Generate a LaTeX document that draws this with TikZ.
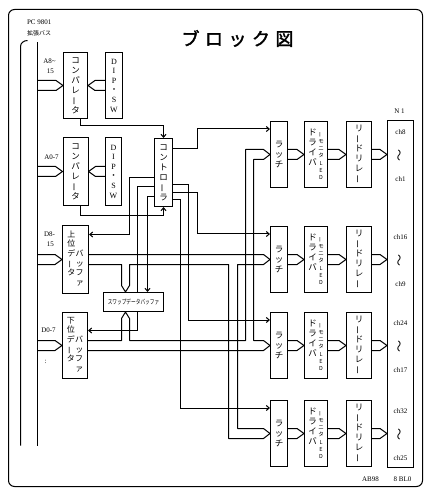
\documentclass[tikz,border=0pt]{standalone}
\usepackage{fontspec}
\usepackage{graphicx}
\setmainfont{Liberation Serif}
\newfontfamily\cjk{Noto Sans CJK JP}
\newfontfamily\cjkb{Noto Sans CJK JP}[FakeBold=2]
\usetikzlibrary{arrows.meta,calc}
\newcommand\vb{\rotatebox[origin=c]{90}{ー}}
\newcommand\wideR[2]{\draw[bus] let \p1=(#1), \p2=(#2) in (\x1,\y2+5pt) -- (\x2-7pt,\y2+5pt) -- (\p2) -- (\x2-7pt,\y2-5pt) -- (\x1,\y2-5pt);}
\newcommand\wideL[2]{\draw[bus] let \p1=(#1), \p2=(#2) in (\x1,\y2+5pt) -- (\x2+7pt,\y2+5pt) -- (\p2) -- (\x2+7pt,\y2-5pt) -- (\x1,\y2-5pt);}
\begin{document}
\begin{tikzpicture}[x=1pt,y=-1pt,line width=1pt,
  box/.style={draw,fill=white,inner sep=0pt,align=center,font=\cjk\fontsize{8.5}{10}\selectfont},
  sig/.style={draw=black,-{Straight Barb[length=3pt,width=5pt]}},
  bus/.style={draw=black,line join=round},
  lbl/.style={inner sep=0pt,font=\fontsize{7}{10}\selectfont,align=center}]
\useasboundingbox (-0.5,-0.5) rectangle (431.5,501.5);
\draw[rounded corners=6pt] (8,9) rectangle (422,486);
% title and labels
\node[inner sep=0pt,font=\cjkb\fontsize{18}{18}\selectfont] (title) at (237,38)
  {\makebox[23.5pt]{ブ}\makebox[23.5pt]{ロ}\makebox[23.5pt]{ッ}\makebox[23.5pt]{ク}\makebox[23.5pt]{図}};
\node[lbl,anchor=west] (pc) at (26,22) {PC 9801};
\node[lbl,anchor=west,font=\cjk\fontsize{6}{7}\selectfont] (kaku) at (26,33) {拡張バス};
\node[lbl] (la8) at (49,66) {A8\textasciitilde\\\ 15};
\node[lbl] (la0) at (51,157) {A0-7};
\node[lbl] (ld8) at (49,239) {D8-\\\ 15};
\node[lbl] (ld0) at (48,330) {D0-7};
\node[lbl] (colon) at (45,361) {:};
% boxes
\node[box,minimum width=24pt,minimum height=66pt] (comp1) at (75,85) {コ\\ン\\パ\\レ\\\vb\\タ};
\node[box,font=\fontsize{8}{9.6}\selectfont,minimum width=17pt,minimum height=66pt] (dip1) at (113.5,85) {D\\I\\P\\{\cjk ・}\\S\\W};
\node[box,minimum width=25pt,minimum height=68pt] (comp2) at (75,171) {コ\\ン\\パ\\レ\\\vb\\タ};
\node[box,font=\fontsize{8}{9.6}\selectfont,minimum width=16pt,minimum height=68pt] (dip2) at (113,171) {D\\I\\P\\{\cjk ・}\\S\\W};
\node[box,minimum width=18pt,minimum height=68pt] (ctrl) at (163,172) {コ\\ン\\ト\\ロ\\\vb\\ラ};
\node[box,font=\cjk\fontsize{8}{9.6}\selectfont,minimum width=26pt,minimum height=68pt] (upper) at (75,259)
  {\begin{tabular}{@{}c@{\hspace{0.5pt}}c@{}}上&\\位&\\デ&バ\\\vb&ッ\\タ&フ\\&ァ\end{tabular}};
\node[box,font=\cjk\fontsize{8}{9.6}\selectfont,minimum width=25pt,minimum height=66pt] (lower) at (74.5,345)
  {\begin{tabular}{@{}c@{\hspace{0.5pt}}c@{}}下&\\位&\\デ&バ\\\vb&ッ\\タ&フ\\&ァ\end{tabular}};
\node[box,minimum width=60pt,minimum height=19pt] (swap) at (133,301.5)
  {\scalebox{0.72}[1]{\fontsize{6.5}{7}\selectfont スワップデータバッファ}};
\node[box,minimum width=26pt,minimum height=347pt] (N1) at (400,293.5) {};
\node[lbl] (n1lbl) at (399,111) {N 1};
\node[lbl] (ab) at (370,479) {AB98};
\node[lbl] (bl) at (402,479) {8 BL0};
\foreach \i/\c/\ta/\tb in {1/154/ch8/ch1,2/259/ch16/ch9,3/345/ch24/ch17,4/433/ch32/ch25}{
  \node[box,minimum width=17pt,minimum height=66pt] (latch\i) at (278.5,\c) {ラ\\ッ\\チ};
  \node[box,minimum width=23pt,minimum height=66pt] (drv\i) at (315.5,\c)
    {\parbox[t]{10pt}{\centering ド\\ラ\\イ\\バ}\parbox[t]{7pt}{\centering\fontsize{5.5}{7.3}\selectfont\vb\\モ\\ニ\\タ\\L\\E\\D}};
  \node[box,minimum width=25pt,minimum height=66pt] (rly\i) at (358.5,\c) {リ\\\vb\\ド\\リ\\レ\\\vb};
  \node[lbl] (cha\i) at (400,\c-22) {\ta};
  \node[lbl,font=\cjk\fontsize{12}{12}\selectfont] (wav\i) at (400,\c+1) {\rotatebox[origin=c]{90}{〜}};
  \node[lbl] (chb\i) at (400,\c+25) {\tb};
  \coordinate (ck\i) at ($(latch\i.north west)+(0,8)$);
}
% expansion bus
\draw[bus] (20,445) -- (20,46) to[out=90,in=180] (27,40);
\draw[bus] (37,42) -- (37,445);
% wide arrows from bus
\wideR{37,0}{comp1.west}
\wideR{37,0}{comp2.west}
\wideR{37,0}{upper.west}
\wideR{37,0}{lower.west}
\wideL{dip1.west}{comp1.east}
\wideL{dip2.west}{comp2.east}
% comparator outputs
\draw[sig] ($(comp1.south)+(5,0)$) -- ++(0,7) -| (ctrl.north);
\draw[sig] ($(comp2.south)+(5,0)$) -- ++(0,10) -| (ctrl.south);
% controller outputs
\draw[sig] (ctrl.east |- 0,148) -| (197,0 |- ck1) -- (ck1);
\draw[sig] (ctrl.east |- 0,192) -| (197,0 |- ck2) -- (ck2);
\draw[sig] (ctrl.east |- 0,184) -| (188,0 |- ck3) -- (ck3);
\draw[sig] (ctrl.east |- 0,199) -| (180,0 |- ck4) -- (ck4);
\draw[sig] (ctrl.west |- 0,177) -| (129,234) -- (upper.east |- 0,234);
\draw[bus] (ctrl.west |- 0,186) -| (137,0 |- swap.north);
\draw[sig] (137,0 |- swap.south) |- (lower.east |- 0,330);
\draw[sig] (ctrl.west |- 0,196) -| (147,0 |- swap.north);
% upper data bus
\draw[bus] (upper.east |- 0,254) -- (263,254) -- (latch2.west) -- (263,264) -- (237,264) -- (237,428)
  -- (263,428) -- (latch4.west) -- (263,438) -- (228,438) -- (228,264) -- (129,264) -- (129,285)
  -- (125,0 |- swap.north) -- (121,285) -- (121,264) -- (upper.east |- 0,264);
% lower data bus
\draw[bus] (lower.east |- 0,340) -- (121,340) -- (121,318) -- (125,0 |- swap.south) -- (129,318)
  -- (129,340) -- (245,340) -- (245,149) -- (263,149) -- (latch1.west) -- (263,159) -- (253,159)
  -- (253,340) -- (263,340) -- (latch3.west) -- (263,350) -- (lower.east |- 0,350);
% row chevrons
\foreach \i in {1,2,3,4}{
  \wideR{latch\i.east}{drv\i.west}
  \wideR{drv\i.east}{rly\i.west}
  \wideR{rly\i.east}{N1.west |- rly\i.center}
}
\end{tikzpicture}
\end{document}
